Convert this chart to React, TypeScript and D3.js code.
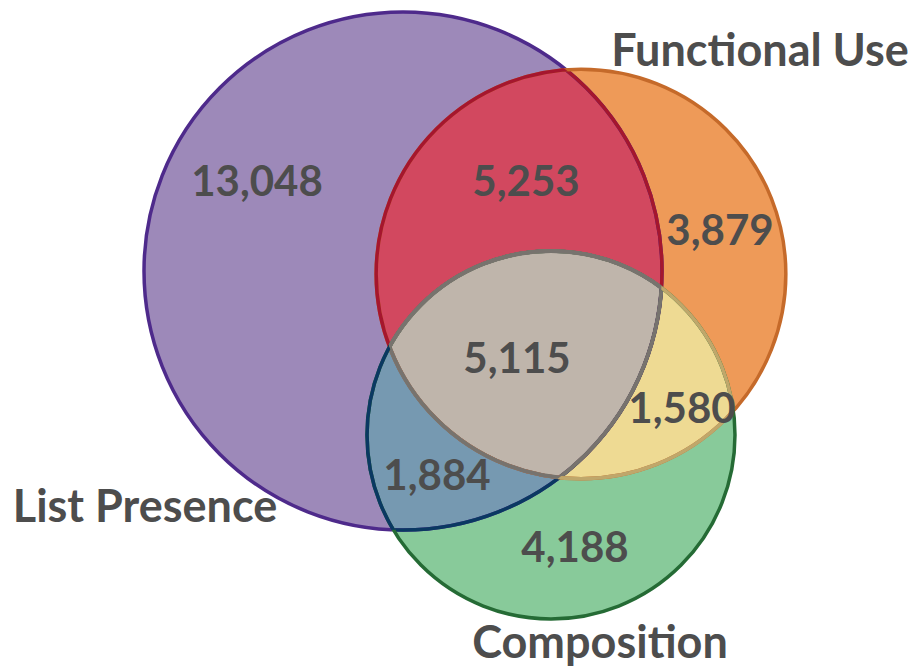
import React from "react";
import * as d3 from "d3";

// Venn sets: List Presence (A), Functional Use (B), Composition (C)
const setNames = ["List Presence", "Functional Use", "Composition"];
const setKeys = ["A", "B", "C"];

// exclusive region counts
const regionKeys = ["A", "B", "C", "AB", "AC", "BC", "ABC"];
const regionValues = [13048, 3879, 4188, 5253, 1884, 1580, 5115];

// layout (circle centres, in px)
const centerX = [403, 581, 551];
const centerY = [271, 274, 435];

// label anchors
const regionLabelX = [257, 720, 575, 526, 437, 682, 517];
const regionLabelY = [196, 245, 562, 196, 490, 423, 373];
const setLabelX = [145, 760, 600];
const setLabelY = [522, 66, 658];

const fills: Record<string, string> = {
  A: "#9d89b9",
  B: "#ee9a58",
  C: "#88ca9a",
  AB: "#d2485f",
  AC: "#7699b1",
  BC: "#eeda93",
  ABC: "#bfb5ab",
};
const strokes: Record<string, string> = {
  A: "#4e2a8b",
  B: "#c56a2a",
  C: "#256b35",
  AB: "#a5162e",
  AC: "#0a3862",
  BC: "#bfa76b",
  ABC: "#77736e",
};

const W = 916;
const H = 670;
const font = "Lato, 'Open Sans', sans-serif";
const textColor = "#4d4d4d";

export default function App() {
  const totals = setKeys.map((k) =>
    d3.sum(regionValues.filter((_, i) => regionKeys[i].includes(k)))
  );
  const r = d3
    .scaleSqrt()
    .domain([0, d3.max(totals)!])
    .range([0, 259]);

  const circles = setKeys.map((k, i) => ({
    key: k,
    cx: centerX[i],
    cy: centerY[i],
    r: r(totals[i]),
  }));
  const byKey: Record<string, (typeof circles)[0]> = {};
  circles.forEach((c) => (byKey[c.key] = c));

  const circ = (k: string, props: any = {}) => {
    const c = byKey[k];
    return <circle cx={c.cx} cy={c.cy} r={c.r} {...props} />;
  };

  const fmt = d3.format(",");
  const sw = 3.5;

  // strokes: for each circle, outer colour then overlap colours via clipping
  const strokeLayers: JSX.Element[] = [];
  setKeys.forEach((k) => {
    const others = setKeys.filter((o) => o !== k);
    strokeLayers.push(
      <g key={k + "-outer"}>
        {circ(k, { fill: "none", stroke: strokes[k], strokeWidth: sw })}
      </g>
    );
    others.forEach((o) => {
      const pair = [k, o].sort().join("");
      strokeLayers.push(
        <g key={k + "-" + o} clipPath={`url(#clip${o})`}>
          {circ(k, { fill: "none", stroke: strokes[pair], strokeWidth: sw })}
        </g>
      );
    });
    const otherPair = others.join("");
    strokeLayers.push(
      <g key={k + "-all"} clipPath={`url(#clip${otherPair})`}>
        {circ(k, { fill: "none", stroke: strokes.ABC, strokeWidth: sw + 0.5 })}
      </g>
    );
  });

  return (
    <svg
      width={W}
      height={H}
      style={{ position: "absolute", left: 0, top: 0, background: "#fff" }}
    >
      <defs>
        {setKeys.map((k) => (
          <clipPath id={`clip${k}`} key={k}>
            {circ(k)}
          </clipPath>
        ))}
        <clipPath id="clipAB">{circ("A", { clipPath: "url(#clipB)" })}</clipPath>
        <clipPath id="clipAC">{circ("A", { clipPath: "url(#clipC)" })}</clipPath>
        <clipPath id="clipBC">{circ("B", { clipPath: "url(#clipC)" })}</clipPath>
      </defs>

      {/* fills */}
      {setKeys.map((k) => (
        <g key={"f" + k}>{circ(k, { fill: fills[k] })}</g>
      ))}
      <g clipPath="url(#clipB)">{circ("A", { fill: fills.AB })}</g>
      <g clipPath="url(#clipC)">{circ("A", { fill: fills.AC })}</g>
      <g clipPath="url(#clipC)">{circ("B", { fill: fills.BC })}</g>
      <g clipPath="url(#clipBC)">{circ("A", { fill: fills.ABC })}</g>

      {strokeLayers}

      {/* region counts */}
      {regionKeys.map((k, i) => (
        <text
          key={"t" + k}
          x={regionLabelX[i]}
          y={regionLabelY[i]}
          textAnchor="middle"
          fontFamily={font}
          fontWeight={700}
          fontSize={42}
          fill={textColor}
        >
          {fmt(regionValues[i])}
        </text>
      ))}

      {/* set names */}
      {setNames.map((n, i) => (
        <text
          key={n}
          x={setLabelX[i]}
          y={setLabelY[i]}
          textAnchor="middle"
          fontFamily={font}
          fontWeight={700}
          fontSize={45}
          fill={textColor}
        >
          {n}
        </text>
      ))}
    </svg>
  );
}
